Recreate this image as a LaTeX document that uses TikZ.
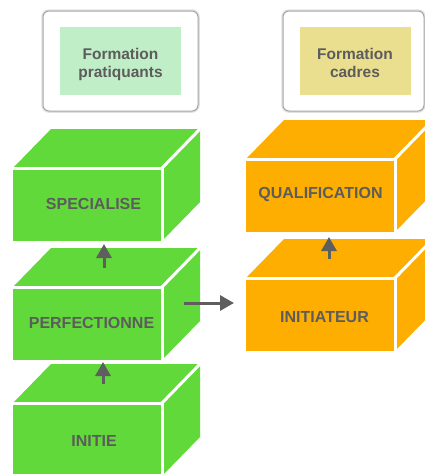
\documentclass[tikz,border=0pt]{standalone}
\usepackage{fontspec}
\setmainfont{Liberation Sans}
\usetikzlibrary{arrows.meta,calc}
\definecolor{cgreen}{HTML}{62D93A}
\definecolor{corange}{HTML}{FEAE00}
\definecolor{lgreen}{HTML}{C0EEC7}
\definecolor{lyellow}{HTML}{EADF8E}
\definecolor{txtgray}{HTML}{5C5C5C}
\definecolor{arrgray}{HTML}{5E5E5E}
\tikzset{
  face/.style={inner sep=0pt, outer sep=0pt, minimum width=149pt, minimum height=73pt},
  edgeline/.style={draw=white, line width=3pt},
  lbl/.style={text=txtgray, font=\fontsize{16}{18}\selectfont\bfseries, inner sep=0pt, anchor=base},
  hdrtxt/.style={text=txtgray, font=\fontsize{15.5}{18}\selectfont\bfseries, inner sep=0pt, align=center},
  outerbox/.style={fill=white, draw=black!35, line width=1pt, rounded corners=6pt, inner sep=0pt, minimum height=100pt,
    preaction={draw=black!12, line width=3.5pt}},
  innerbox/.style={inner sep=0pt, minimum height=68pt},
  arr/.style={draw=arrgray, line width=3pt, -{Triangle[width=15pt,length=14pt]}},
}
\newcommand\mkcube[4]{%
  \node[face, fill=#4, anchor=north west] (#1) at (#2,#3) {};
  \fill[#4] (#1.north west) -- ++(38,-39) -- ++(149,0) -- (#1.north east) -- cycle;
  \fill[#4] (#1.north east) -- ++(38,-39) -- ++(0,73) -- (#1.south east) -- cycle;
  \draw[edgeline] (#1.north west) -- (#1.north east) -- (#1.south east);
  \draw[edgeline] (#1.north east) -- ++(38,-39);
}
\begin{document}
\begin{tikzpicture}[x=1pt,y=-1pt]
\clip (0,0) rectangle (425,474);
\fill[white] (0,0) rectangle (425,474);
% headers
\node[outerbox, minimum width=155pt] (ob1) at (120.5,61) {};
\node[outerbox, minimum width=141pt] (ob2) at (353.5,61) {};
\node[innerbox, fill=lgreen, minimum width=121pt] (ib1) at (120.5,61) {};
\node[innerbox, fill=lyellow, minimum width=111pt] (ib2) at (355.5,61) {};
\node[hdrtxt] (h1) at (120.5,64.4) {Formation\strut\\pratiquants\strut};
\node[hdrtxt] (h2) at (355,64.4) {Formation\strut\\cadres\strut};
% cubes
\mkcube{spec}{13}{168}{cgreen}
\mkcube{perf}{13}{287}{cgreen}
\mkcube{init}{13}{403}{cgreen}
\mkcube{qual}{246}{159}{corange}
\mkcube{initr}{246}{278}{corange}
% labels
\node[lbl] (lspec) at (93.5,209) {SPECIALISE};
\node[lbl] (lperf) at (91.5,328) {PERFECTIONNE};
\node[lbl] (linit) at (94,446) {INITIE};
\node[lbl] (lqual) at (320.5,198.5) {QUALIFICATION};
\node[lbl] (linitr) at (324.5,322) {INITIATEUR};
% arrows
\coordinate (a1s) at (104,268); \coordinate (a1e) at (104,244);
\coordinate (a2s) at (103,384); \coordinate (a2e) at (103,362);
\coordinate (a3s) at (184,303); \coordinate (a3e) at (234,303);
\coordinate (a4s) at (329,259); \coordinate (a4e) at (329,237);
\draw[arr] (a1s) -- (a1e);
\draw[arr] (a2s) -- (a2e);
\draw[arr] (a3s) -- (a3e);
\draw[arr] (a4s) -- (a4e);
\end{tikzpicture}
\end{document}
